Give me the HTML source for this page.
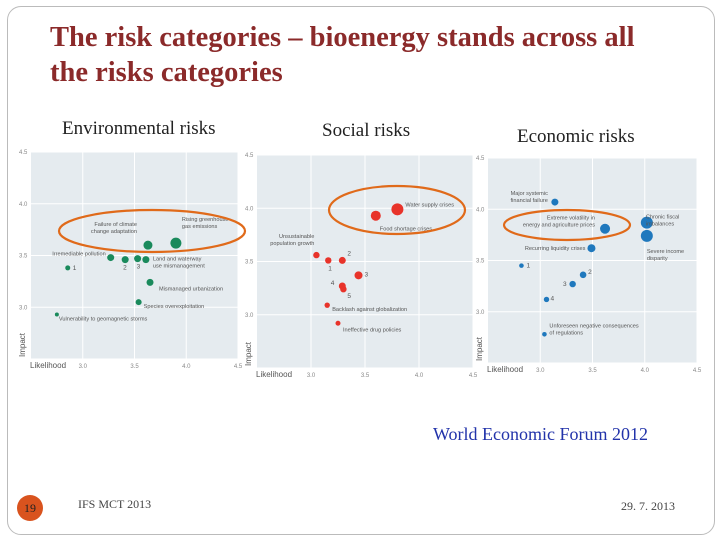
<!DOCTYPE html>
<html><head><meta charset="utf-8"><style>
body{margin:0;background:#fff;}
#slide{position:relative;width:720px;height:540px;overflow:hidden;background:#fff;font-family:"Liberation Serif",serif;}
.t{position:absolute;white-space:nowrap;}
</style></head><body>
<div id="slide">
<div style="position:absolute;left:7px;top:6px;width:706px;height:527px;border:1px solid #bbb;border-radius:14px;"></div>
<div class="t" style="left:50px;top:20px;font-size:28.5px;font-weight:bold;color:#8b2a2a;line-height:35px;">The risk categories – bioenergy stands across all<br>the risks categories</div>
<div class="t" style="left:62px;top:118px;font-size:19px;color:#222;">Environmental risks</div>
<div class="t" style="left:322px;top:120px;font-size:19px;color:#222;">Social risks</div>
<div class="t" style="left:517px;top:126px;font-size:19px;color:#222;">Economic risks</div>
<svg id="chart" width="720" height="540" style="position:absolute;left:0;top:0;font-family:'Liberation Sans',sans-serif;"></svg>
<div class="t" style="left:433px;top:424px;font-size:18px;color:#2233aa;">World Economic Forum 2012</div>
<div style="position:absolute;left:17px;top:495px;width:26px;height:26px;border-radius:13px;background:#d9531e;"></div>
<div class="t" style="left:17px;top:501px;width:26px;text-align:center;font-size:12px;color:#222;">19</div>
<div class="t" style="left:78px;top:497px;font-size:12px;color:#444;">IFS MCT 2013</div>
<div class="t" style="left:621px;top:499px;font-size:12px;color:#444;">29. 7. 2013</div>
</div>
<script>
const envLabels=[["1"],["Irremediable pollution"],["2"],["3"],["Land and waterway","use mismanagement"],["Failure of climate","change adaptation"],["Rising greenhouse","gas emissions"],["Mismanaged urbanization"],["Species overexploitation"],["Vulnerability to geomagnetic storms"]];
const envX=[2.855,3.27,3.41,3.53,3.61,3.63,3.90,3.65,3.54,2.75];
const envY=[3.38,3.48,3.46,3.47,3.46,3.60,3.62,3.24,3.05,2.93];
const envR=[2.5,3.5,3.5,3.5,3.5,4.5,5.5,3.5,3,2];
const socLabels=[["Water supply crises"],["Food shortage crises"],["Unsustainable","population growth"],["1"],["2"],["3"],["4"],["5"],["Backlash against globalization"],["Ineffective drug policies"]];
const socX=[3.80,3.60,3.05,3.16,3.29,3.44,3.29,3.30,3.15,3.25];
const socY=[3.99,3.93,3.56,3.51,3.51,3.37,3.27,3.24,3.09,2.92];
const socR=[6,5,3.2,3.2,3.5,4,3.5,3.2,2.7,2.5];
const ecoLabels=[["Major systemic","financial failure"],["Chronic fiscal","imbalances"],["Severe income","disparity"],["Extreme volatility in","energy and agriculture prices"],["Recurring liquidity crises"],["1"],["2"],["3"],["4"],["Unforeseen negative consequences","of regulations"]];
const ecoX=[3.14,4.02,4.02,3.62,3.49,2.82,3.41,3.31,3.06,3.04];
const ecoY=[4.07,3.87,3.74,3.81,3.62,3.45,3.36,3.27,3.12,2.78];
const ecoR=[3.5,6,6,5,4,2.3,3.3,3.2,2.7,2.3];
const xTicks=["3.0","3.5","4.0","4.5"];
const yTicks=["2.5","3.0","3.5","4.0","4.5"];
// label placement (layout only): [dx, dy, anchor]
const envPlace=[[5,2,'start'],[-5,-2,'end'],[-2,10,'start'],[-1,10,'start'],[7,1,'start'],[-11,-19,'end'],[6,-22,'start'],[9,8,'start'],[5,6,'start'],[2,6,'start']];
const socPlace=[[8,-3,'start'],[4,15,'start'],[-2,-17,'end'],[0,10,'start'],[5,-5,'start'],[6,1,'start'],[-8,-1,'end'],[4,9,'start'],[5,6,'start'],[5,8,'start']];
const ecoPlace=[[-7,-7,'end'],[-1,-4,'start'],[0,17,'start'],[-10,-9,'end'],[-6,2,'end'],[5,2,'start'],[5,-1,'start'],[-6,2,'end'],[4,1,'start'],[5,-7,'start']];
const NS="http://www.w3.org/2000/svg";
const svg=document.getElementById('chart');
function mk(tag,attrs,parent){const e=document.createElementNS(NS,tag);for(const k in attrs)e.setAttribute(k,attrs[k]);(parent||svg).appendChild(e);return e;}
function panel(name,x0,x1,y0,y1,color,X,Y,R,L,P,ell){
  const g=mk('g',{});
  
  
  const sx=v=>x0+(v-2.5)/2*(x1-x0), sy=v=>y1-(v-2.5)/2*(y1-y0);
  const bg=mk('rect',{x:x0,y:y0,width:x1-x0,height:y1-y0,fill:'#e5ebef'},g);
  
  
  xTicks.forEach(t=>{const v=parseFloat(t);mk('line',{x1:sx(v),x2:sx(v),y1:y0,y2:y1,stroke:'#fff','stroke-width':1},g);
    const tx=mk('text',{x:sx(v),y:y1+9,'font-size':6,fill:'#888','text-anchor':'middle'},g);tx.textContent=t;
    
    });
  yTicks.forEach(t=>{const v=parseFloat(t);mk('line',{x1:x0,x2:x1,y1:sy(v),y2:sy(v),stroke:'#fff','stroke-width':1},g);
    if(v>2.5){const tx=mk('text',{x:x0-12,y:sy(v)+2,'font-size':6,fill:'#888'},g);tx.textContent=t;
    
    }});
  const xl=mk('text',{x:x0-1,y:y1+9,'font-size':8,fill:'#555'},g);xl.textContent='Likelihood';
  
  
  const yl=mk('text',{x:0,y:0,'font-size':8,fill:'#555',transform:`translate(${x0-6},${y1-2}) rotate(-90)`},g);yl.textContent='Impact';
  
  
  X.forEach((v,i)=>{const cx=sx(v),cy=sy(Y[i]);
    const c=mk('circle',{cx:cx,cy:cy,r:R[i],fill:color},g);
    
    
    const p=P[i];const short=L[i][0].length<3;
    const t=mk('text',{x:cx+p[0],y:cy+p[1],'font-size':short?6.5:5.6,fill:'#555','text-anchor':p[2]},g);
    
    
    L[i].forEach((ln,j)=>{const s=mk('tspan',{x:cx+p[0],dy:j?7:0},t);s.textContent=ln;});});
  const e=mk('ellipse',{cx:ell[0],cy:ell[1],rx:ell[2],ry:ell[3],fill:'none',stroke:'#e06a1a','stroke-width':2.2},g);
  
  
}
panel('env',31,238,152,359,'#1a8a5c',envX,envY,envR,envLabels,envPlace,[152,231,93,21]);
panel('social',257,473,155,368,'#e8332a',socX,socY,socR,socLabels,socPlace,[397,210,68,24]);
panel('econ',488,697,158,363,'#1f78bd',ecoX,ecoY,ecoR,ecoLabels,ecoPlace,[567,225,63,15]);
</script>
</body></html>
